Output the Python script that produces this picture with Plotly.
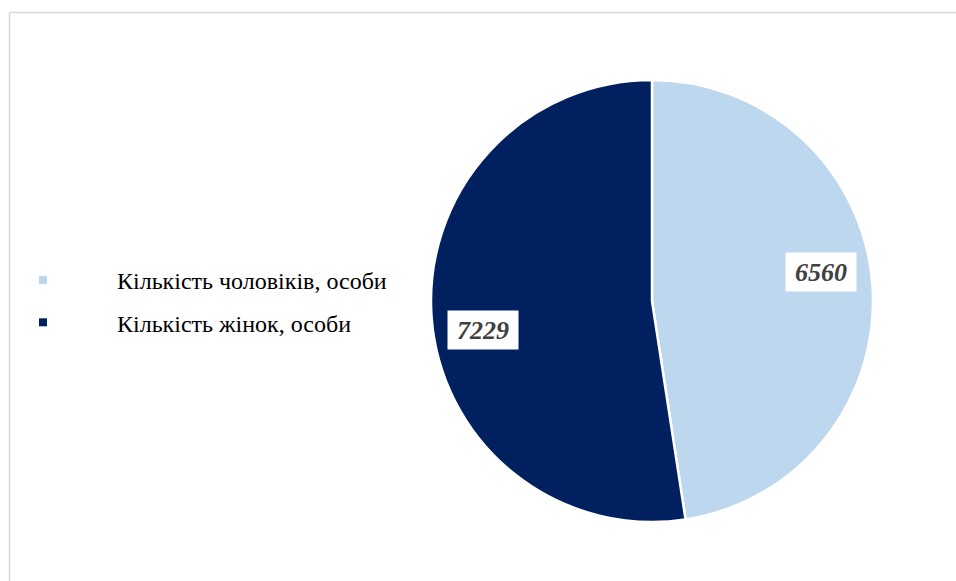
import math
import plotly.graph_objects as go

categories = ["Кількість чоловіків, особи", "Кількість жінок, особи"]
values = [6560, 7229]
colors = ["#BDD7EE", "#002060"]

W, H = 956, 581
cx, cy, R = 652, 301, 221
SERIF = "Liberation Serif, Times New Roman, serif"
LABEL_R = 0.776       # label distance as fraction of radius
LABEL_SHIFT = -5.3    # degrees, best-fit style nudge

fig = go.Figure()
fig.add_trace(go.Pie(
    labels=categories,
    values=values,
    sort=False,
    direction="clockwise",
    rotation=0,
    textinfo="none",
    hoverinfo="label+value",
    marker=dict(colors=colors, line=dict(color="white", width=2.5)),
    domain=dict(x=[(cx - R) / W, (cx + R) / W], y=[(H - cy - R) / H, (H - cy + R) / H]),
    showlegend=False,
))

# legend entries (square markers) built from the same data
for cat, col in zip(categories, colors):
    fig.add_trace(go.Scatter(
        x=[None], y=[None], mode="markers", name=cat, legendgroup=cat,
        marker=dict(symbol="square", size=8, color=col),
    ))

# data labels at mid-angle of each slice
total = sum(values)
start = 0.0
for v in values:
    mid = start + v / total * 360 / 2 + LABEL_SHIFT
    start += v / total * 360
    a = math.radians(mid)
    px = cx + LABEL_R * R * math.sin(a)
    py = cy - LABEL_R * R * math.cos(a)
    fig.add_annotation(
        x=px / W, y=1 - py / H, xref="paper", yref="paper",
        xanchor="center", yanchor="middle",
        text=str(v), showarrow=False,
        font=dict(family=SERIF, size=26, color="#404040", weight="bold", style="italic"),
        bgcolor="white", borderpad=0, width=70, height=38,
    )

fig.add_shape(type="rect", xref="paper", yref="paper",
              x0=9.5 / W, x1=1.1, y0=-0.1, y1=1 - 12.5 / H,
              line=dict(color="#d9d9d9", width=1.5), fillcolor="rgba(0,0,0,0)", layer="below")

fig.update_layout(
    width=W, height=H,
    margin=dict(l=0, r=0, t=0, b=0, autoexpand=False),
    paper_bgcolor="white",
    plot_bgcolor="white",
    xaxis=dict(visible=False),
    yaxis=dict(visible=False),
    legend=dict(
        x=-31 / W, y=1 - 258 / H, xanchor="left", yanchor="top",
        font=dict(family=SERIF, size=24, color="#000000"),
        itemwidth=138, tracegroupgap=8, bgcolor="rgba(0,0,0,0)",
    ),
)

fig.write_html(
    "out.html",
    config={"displayModeBar": False},
    post_script="document.body.style.margin='0';document.documentElement.style.overflow='hidden';",
)
